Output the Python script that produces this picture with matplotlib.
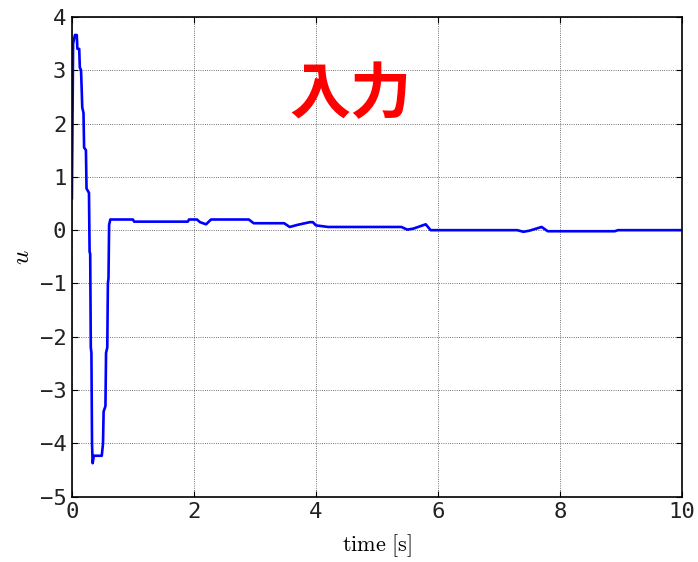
import matplotlib
matplotlib.use("Agg")
import matplotlib.pyplot as plt

# input signal u(t)
t = [0, 0.02, 0.05, 0.08, 0.09, 0.12, 0.13, 0.15, 0.16, 0.17, 0.19, 0.20, 0.23, 0.24,
     0.28, 0.29, 0.30, 0.31, 0.32, 0.33, 0.34, 0.36, 0.49, 0.51, 0.52, 0.55, 0.56, 0.58,
     0.59, 0.60, 0.61, 0.63, 1.0, 1.02, 1.9, 1.92, 2.05, 2.1, 2.2, 2.28, 2.9, 2.98, 3.48,
     3.57, 3.7, 3.9, 3.95, 4.0, 4.2, 5.4, 5.5, 5.6, 5.8, 5.88, 7.3, 7.4, 7.5, 7.7, 7.8,
     8.9, 8.95, 10]
u = [0.6, 3.5, 3.66, 3.66, 3.4, 3.4, 3.05, 3.0, 2.66, 2.3, 2.2, 1.55, 1.5, 0.78,
     0.7, -0.4, -0.45, -2.2, -2.3, -4.0, -4.37, -4.23, -4.23, -4.0, -3.4, -3.3, -2.3, -2.2,
     -1.0, -0.9, 0.1, 0.2, 0.2, 0.16, 0.16, 0.2, 0.2, 0.15, 0.11, 0.2, 0.2, 0.13, 0.13,
     0.06, 0.1, 0.15, 0.15, 0.09, 0.06, 0.06, 0.01, 0.03, 0.11, 0.0, 0.0, -0.03, -0.01, 0.06, -0.02,
     -0.02, 0.0, 0.0]

xticks = [0, 2, 4, 6, 8, 10]
yticks = [-5, -4, -3, -2, -1, 0, 1, 2, 3, 4]

plt.rcParams['mathtext.fontset'] = 'cm'
plt.rcParams['axes.unicode_minus'] = True

fig = plt.figure(figsize=(6.98, 5.62), dpi=100)
ax = fig.add_axes([0.103, 0.116, 0.874, 0.854])

ax.plot(t, u, color="#0000ff", linewidth=1.9)

ax.set_xlim(0, 10)
ax.set_ylim(-5, 4)
ax.set_xticks(xticks)
ax.set_yticks(yticks)
ax.grid(True, color="#444444", linestyle=":", linewidth=0.6)
ax.tick_params(direction="in", top=True, right=True, length=4, labelsize=16, pad=4)
for lab in ax.get_xticklabels() + ax.get_yticklabels():
    lab.set_family("DejaVu Sans Mono")
    lab.set_fontweight("light")
    lab.set_color("#222222")
for s in ax.spines.values():
    s.set_linewidth(1.2)

ax.set_xlabel(r"$\mathrm{time\ [s]}$", fontsize=16, labelpad=7)
ax.set_ylabel(r"$u$", fontsize=18, labelpad=4)

ax.text(4.56, 2.53, "入力", color="red", fontsize=44, fontweight="bold",
        family=["Noto Sans CJK JP", "DejaVu Sans"], ha="center", va="center")

fig.savefig("out.png", dpi=100)
